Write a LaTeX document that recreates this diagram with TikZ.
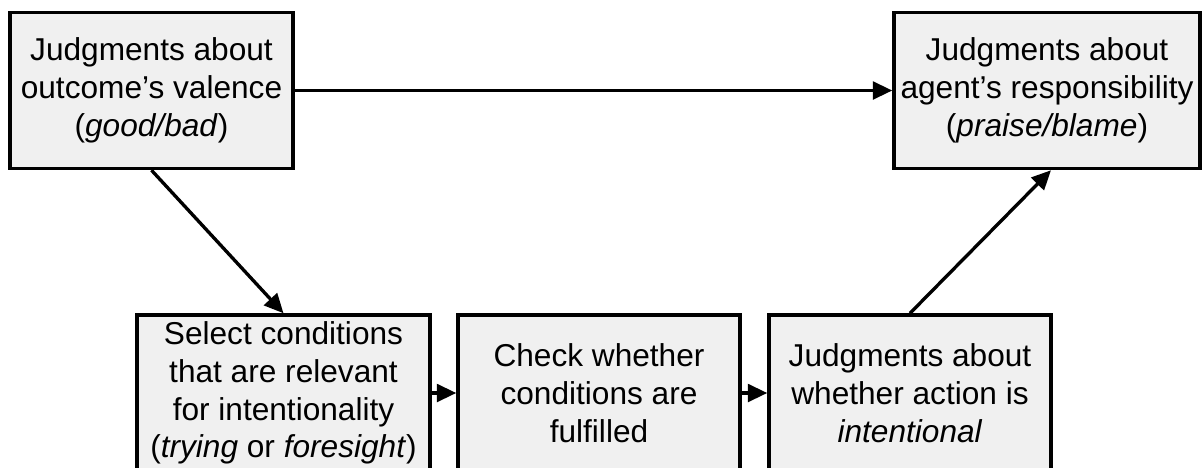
\documentclass[tikz,border=0pt]{standalone}
\usepackage{fontspec}
\setmainfont{Liberation Sans}
\usetikzlibrary{arrows.meta,positioning}

\begin{document}
\begin{tikzpicture}[x=0.02cm,y=-0.02cm,>={Triangle[length=11pt,width=10pt]},
 box/.style={draw,line width=2pt,fill=black!6,align=center,inner sep=0pt,
  minimum height=3.12cm,font=\fontsize{18}{21.5}\selectfont},
 link/.style={->,line width=1.9pt}]
\useasboundingbox (0,0) rectangle (1203,467);
\clip (0,0) rectangle (1203,467);
\node[box,minimum width=5.66cm] (valence) at (151.5,90.5) {Judgments about\\
 outcome's valence\\ (\textit{good/bad})};
\node[box,minimum width=6.12cm] (resp) at (1047,90.5) {Judgments about\\
 agent's responsibility\\ (\textit{praise/blame})};
\node[box,minimum width=5.86cm] (select) at (283.5,393) {Select conditions\\
 that are relevant\\ for intentionality\\ (\textit{trying} or \textit{foresight})};
\node[box,minimum width=5.64cm] (check) at (599,393) {Check whether\\
 conditions are\\ fulfilled};
\node[box,minimum width=5.64cm] (intent) at (910,393) {Judgments about\\
 whether action is\\ \textit{intentional}};
\draw[link] (valence)--(resp);\draw[link] (valence.south)--(select.north);
\draw[link] (select)--(check);\draw[link] (check)--(intent);
\draw[link] (intent.north)--([xshift=0.08cm]resp.south);
\end{tikzpicture}
\end{document}
